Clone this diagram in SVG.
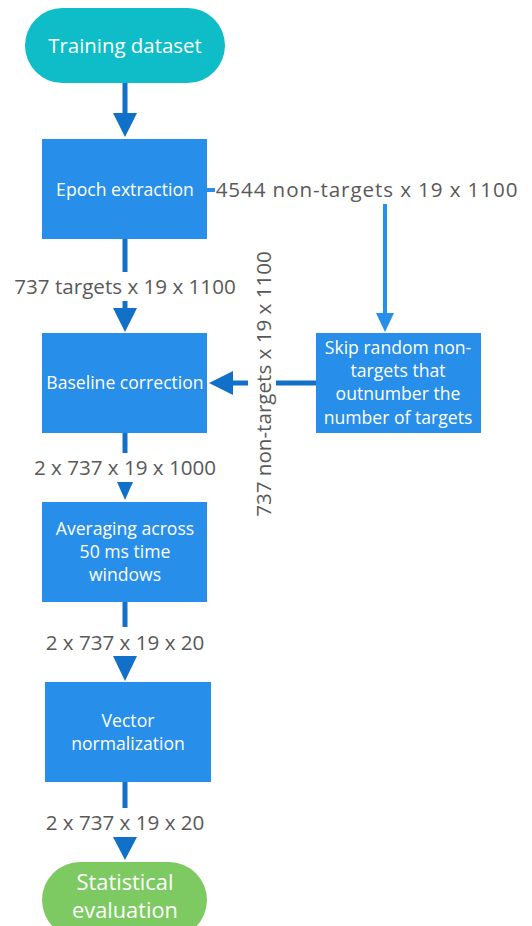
<svg xmlns="http://www.w3.org/2000/svg" width="532" height="926" viewBox="0 0 532 926">
  <defs>
    <style>
      .box { fill: #278EEA; }
      .ntext { font-family: "Open Sans", "Liberation Sans", sans-serif; fill: #FFFFFF; text-anchor: middle; font-size: 17.6px; }
      .big { font-size: 21.8px; }
      .lbl { font-family: "Open Sans", "Liberation Sans", sans-serif; fill: #595959; font-size: 20.6px; text-anchor: middle; }
      .main { stroke: #1170C8; stroke-width: 5; fill: none; }
      .side { stroke: #278EEA; stroke-width: 4; fill: none; }
      .headMain { fill: #1170C8; }
      .headSide { fill: #278EEA; }
    </style>
  </defs>
  <rect width="532" height="926" fill="#FFFFFF"/>

  <!-- connectors -->
  <g id="connectors">
    <!-- Training dataset -> Epoch extraction -->
    <line class="main" x1="125" y1="83" x2="125" y2="115"/>
    <polygon class="headMain" points="113,113 137,113 125,137"/>
    <!-- Epoch extraction -> Baseline correction -->
    <line class="main" x1="125" y1="239" x2="125" y2="272"/>
    <line class="main" x1="125" y1="301" x2="125" y2="310"/>
    <polygon class="headMain" points="113,308 137,308 125,332"/>
    <!-- Epoch extraction -> Skip random non-targets -->
    <polyline class="side" points="207,190 215,190"/>
    <line class="side" x1="385" y1="204" x2="385" y2="316"/>
    <polygon class="headSide" points="376,313 394,313 385,332"/>
    <!-- Skip random non-targets -> Baseline correction -->
    <line class="main" x1="316" y1="383" x2="276" y2="383"/>
    <line class="main" x1="248" y1="383" x2="230" y2="383"/>
    <polygon class="headMain" points="233,371 233,395 209,383"/>
    <!-- Baseline correction -> Averaging -->
    <line class="main" x1="125" y1="433" x2="125" y2="453"/>
    <polygon class="headMain" points="117,482 133,482 125,500"/>
    <!-- Averaging -> Vector normalization -->
    <line class="main" x1="125" y1="602" x2="125" y2="627"/>
    <polygon class="headMain" points="113,656 137,656 125,681"/>
    <!-- Vector normalization -> Statistical evaluation -->
    <line class="main" x1="125" y1="782" x2="125" y2="808"/>
    <polygon class="headMain" points="113,837 137,837 125,860"/>

    <!-- connector labels -->
    <text class="lbl" x="367" y="197" letter-spacing="0.9">4544 non-targets x 19 x 1100</text>
    <text class="lbl" x="125" y="294">737 targets x 19 x 1100</text>
    <text class="lbl" transform="translate(271,384) rotate(-90)">737 non-targets x 19 x 1100</text>
    <text class="lbl" x="125" y="475">2 x 737 x 19 x 1000</text>
    <text class="lbl" x="125" y="650">2 x 737 x 19 x 20</text>
    <text class="lbl" x="125" y="830">2 x 737 x 19 x 20</text>
  </g>

  <g id="training-dataset">
    <rect x="25" y="8" width="200" height="75" rx="37.5" fill="#0EBDC8"/>
    <text class="ntext" x="125" y="53" style="font-size:20.4px">Training dataset</text>
  </g>

  <g id="epoch-extraction">
    <rect class="box" x="42" y="139" width="165" height="100"/>
    <text class="ntext" x="125" y="196">Epoch extraction</text>
  </g>

  <g id="baseline-correction">
    <rect class="box" x="42" y="333" width="165" height="100"/>
    <text class="ntext" x="125" y="389">Baseline correction</text>
  </g>

  <g id="skip-non-targets">
    <rect class="box" x="316" y="333" width="165" height="100"/>
    <text class="ntext" x="398" y="354">Skip random non-</text>
    <text class="ntext" x="398" y="377">targets that</text>
    <text class="ntext" x="398" y="400">outnumber the</text>
    <text class="ntext" x="398" y="424">number of targets</text>
  </g>

  <g id="averaging">
    <rect class="box" x="42" y="502" width="165" height="100"/>
    <text class="ntext" x="125" y="535">Averaging across</text>
    <text class="ntext" x="125" y="558">50 ms time</text>
    <text class="ntext" x="125" y="581">windows</text>
  </g>

  <g id="vector-normalization">
    <rect class="box" x="45" y="682" width="166" height="100"/>
    <text class="ntext" x="128" y="727">Vector</text>
    <text class="ntext" x="128" y="750">normalization</text>
  </g>

  <g id="statistical-evaluation">
    <rect x="42" y="862" width="165" height="76" rx="38" fill="#7DCA63"/>
    <text class="ntext big" x="125" y="890">Statistical</text>
    <text class="ntext big" x="125" y="918">evaluation</text>
  </g>
</svg>
